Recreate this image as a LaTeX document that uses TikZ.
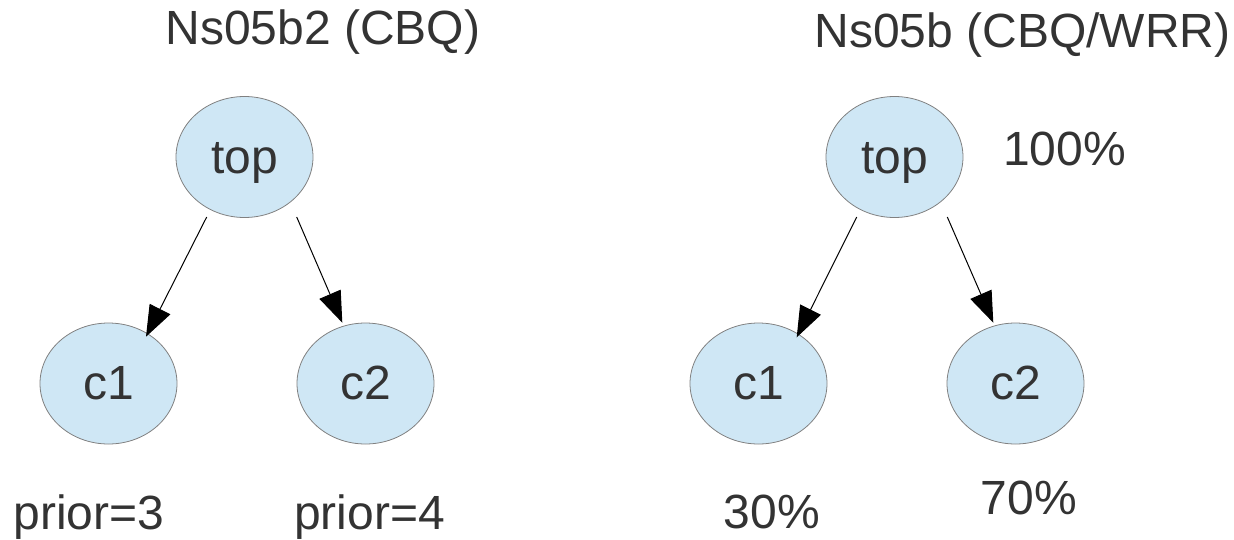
\documentclass[tikz,border=0pt]{standalone}
\usepackage{fontspec}
\setmainfont{Liberation Sans}
\usetikzlibrary{shapes.geometric,arrows.meta}
\definecolor{txtgray}{RGB}{51,51,51}
\definecolor{nodefill}{RGB}{207,231,245}
\definecolor{nodeline}{RGB}{128,128,128}
\begin{document}
\begin{tikzpicture}[x=1pt,y=-1pt,
  every node/.style={text=txtgray,font=\fontsize{48}{58}\selectfont},
  classnode/.style={ellipse,draw=nodeline,line width=0.8pt,fill=nodefill,
    minimum width=137pt,minimum height=121pt,inner sep=0pt,
    text height=34pt,text depth=2pt},
  label/.style={anchor=base,inner sep=0pt},
  link/.style={draw=black,line width=1pt,-{Triangle[length=31pt,width=23pt]}}]
\useasboundingbox (0,0) rectangle (1234,539);

% left tree: CBQ with priorities
\node[label] (t1) at (323,44) {Ns05b2 (CBQ)};
\node[classnode] (topA) at (244.5,157) {top};
\node[classnode] (c1A) at (108.5,383.5) {c1};
\node[classnode] (c2A) at (365.5,383.5) {c2};
\node[label] (pA1) at (89,529) {prior=3};
\node[label] (pA2) at (369.5,529) {prior=4};
\draw[link] ([shift={(-37.8,60)}]topA.center) -- ([shift={(37.5,-46.8)}]c1A.center);
\draw[link] ([shift={(52.2,60)}]topA.center) -- ([shift={(-23.2,-60.8)}]c2A.center);

% right tree: CBQ/WRR with bandwidth shares
\node[label] (t2) at (1022.5,47) {Ns05b (CBQ/WRR)};
\node[classnode] (topB) at (894.5,157) {top};
\node[classnode] (c1B) at (758.5,383.5) {c1};
\node[classnode] (c2B) at (1015.5,383.5) {c2};
\node[label] (sB0) at (1064.5,165) {100\%};
\node[label] (sB1) at (772,528.5) {30\%};
\node[label] (sB2) at (1029,514) {70\%};
\draw[link] ([shift={(-37.8,60)}]topB.center) -- ([shift={(38.2,-46.2)}]c1B.center);
\draw[link] ([shift={(52.8,60)}]topB.center) -- ([shift={(-22.2,-60.8)}]c2B.center);
\end{tikzpicture}
\end{document}
